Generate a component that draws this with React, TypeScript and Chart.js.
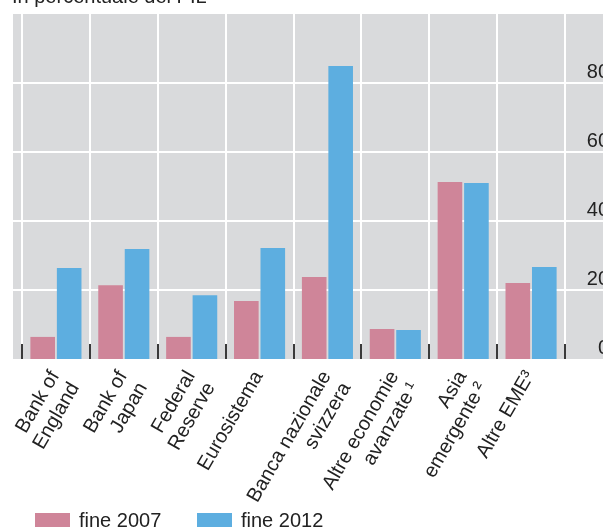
import React, { useEffect, useRef } from "react";
import { Chart, registerables } from "chart.js";

Chart.register(...registerables);

const categories: (string | string[])[] = [
  ["Bank of", "England"],
  ["Bank of", "Japan"],
  ["Federal", "Reserve"],
  "Eurosistema",
  ["Banca nazionale", "svizzera"],
  ["Altre economie", "avanzate\u2009\u00B9"],
  ["Asia", "emergente\u2009\u00B2"],
  "Altre EME\u00B3",
];
const fine2007 = [6.4, 21.4, 6.4, 16.8, 23.8, 8.7, 51.3, 22.0];
const fine2012 = [26.4, 31.9, 18.5, 32.2, 84.9, 8.4, 51.0, 26.7];
const seriesNames = ["fine 2007", "fine 2012"];
const yTicks = [0, 20, 40, 60, 80, 100];
const title = "In percentuale del PIL";

const PINK = "#CF8599";
const BLUE = "#5DAEE0";
const GRAY = "#D9DADC";
const TEXT = "#222222";
const FONT = "Liberation Sans, Arial, Helvetica, sans-serif";

const W = 620;
const H = 530;

export default function App() {
  const ref = useRef<HTMLCanvasElement | null>(null);

  useEffect(() => {
    const canvas = ref.current;
    if (!canvas) return;

    const decor = {
      id: "decor",
      beforeDraw(chart: any) {
        const { ctx, chartArea } = chart;
        const y = chart.scales.y;
        ctx.save();
        ctx.fillStyle = GRAY;
        ctx.fillRect(13, chartArea.top, W - 13, chartArea.bottom - chartArea.top);
        ctx.strokeStyle = "#FFFFFF";
        ctx.lineWidth = 2;
        for (const t of yTicks) {
          if (t === 0 || t === 100) continue;
          const py = Math.round(y.getPixelForValue(t));
          ctx.beginPath();
          ctx.moveTo(13, py);
          ctx.lineTo(W, py);
          ctx.stroke();
        }
        ctx.restore();
      },
      afterDatasetsDraw(chart: any) {
        const { ctx, chartArea } = chart;
        const n = categories.length;
        const step = (chartArea.right - chartArea.left) / n;
        ctx.save();
        ctx.strokeStyle = "#3a3a3a";
        ctx.lineWidth = 2;
        for (let i = 0; i <= n; i++) {
          const px = Math.round(chartArea.left + i * step);
          ctx.beginPath();
          ctx.moveTo(px, chartArea.bottom - 15);
          ctx.lineTo(px, chartArea.bottom);
          ctx.stroke();
        }
        ctx.restore();
      },
      afterDraw(chart: any) {
        const { ctx } = chart;
        ctx.save();
        ctx.fillStyle = TEXT;
        ctx.font = `20px ${FONT}`;
        ctx.textBaseline = "alphabetic";
        ctx.textAlign = "left";
        ctx.fillText(title, 12, 3);
        const items = [
          { x: 35, color: PINK, label: seriesNames[0] },
          { x: 197, color: BLUE, label: seriesNames[1] },
        ];
        for (const it of items) {
          ctx.fillStyle = it.color;
          ctx.fillRect(it.x, 513, 35, 14);
          ctx.fillStyle = TEXT;
          ctx.textBaseline = "middle";
          ctx.fillText(it.label, it.x + 44, 521);
        }
        ctx.restore();
      },
    };

    const chart = new Chart(canvas, {
      type: "bar",
      data: {
        labels: categories,
        datasets: [
          {
            label: seriesNames[0],
            data: fine2007,
            backgroundColor: PINK,
            borderWidth: 0,
            categoryPercentage: 0.78,
            barPercentage: 0.93,
          },
          {
            label: seriesNames[1],
            data: fine2012,
            backgroundColor: BLUE,
            borderWidth: 0,
            categoryPercentage: 0.78,
            barPercentage: 0.93,
          },
        ],
      },
      options: {
        responsive: false,
        animation: false,
        devicePixelRatio: 1,
        layout: { padding: { left: 22, right: 11, top: 14, bottom: 0 } },
        plugins: {
          legend: { display: false },
          tooltip: { enabled: false },
          title: { display: false },
        },
        scales: {
          x: {
            offset: true,
            grid: {
              display: true,
              offset: true,
              color: "#FFFFFF",
              lineWidth: 2,
              drawTicks: false,
            },
            border: { display: false },
            ticks: {
              autoSkip: false,
              maxRotation: 60,
              minRotation: 60,
              padding: 8,
              labelOffset: -1,
              color: TEXT,
              font: { family: FONT, size: 20, lineHeight: 1.15 },
            },
            afterFit(scale: any) {
              scale.height = 171;
              scale.paddingLeft = 0;
              scale.paddingRight = 0;
            },
          },
          y: {
            position: "right",
            min: 0,
            max: 100,
            grid: { display: false, drawTicks: false },
            border: { display: false },
            afterBuildTicks(scale: any) {
              scale.ticks = yTicks.map((v) => ({ value: v }));
            },
            ticks: {
              crossAlign: "far",
              padding: 22,
              labelOffset: -11,
              color: TEXT,
              font: { family: FONT, size: 20 },
              callback: (v: any) => (v === 100 ? "" : String(v)),
            },
            afterFit(scale: any) {
              scale.width = 44;
              scale.paddingTop = 0;
              scale.paddingBottom = 0;
            },
          },
        },
      },
      plugins: [decor],
    } as any);

    return () => chart.destroy();
  }, []);

  return (
    <div
      style={{
        position: "fixed",
        left: 0,
        top: 0,
        width: 603,
        height: 530,
        overflow: "hidden",
        background: "#fff",
      }}
    >
      <canvas ref={ref} width={W} height={H} style={{ display: "block", width: W, height: H }} />
    </div>
  );
}
